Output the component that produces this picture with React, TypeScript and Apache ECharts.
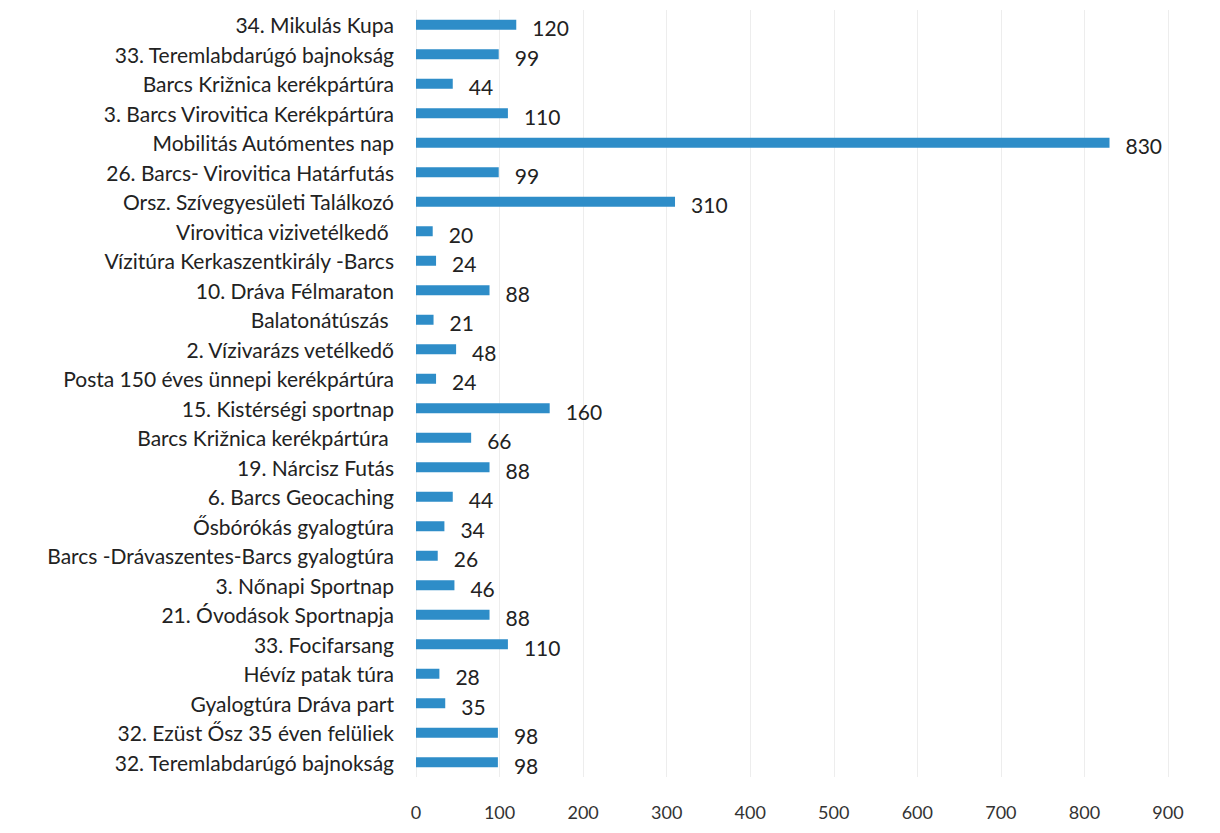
import React, { useEffect, useRef } from "react";
import * as echarts from "echarts";

const categories = [
  "34. Mikulás Kupa",
  "33. Teremlabdarúgó bajnokság",
  "Barcs Križnica kerékpártúra",
  "3. Barcs Virovitica Kerékpártúra",
  "Mobilitás Autómentes nap",
  "26. Barcs- Virovitica Határfutás",
  "Orsz. Szívegyesületi Találkozó",
  "Virovitica vizivetélkedő ",
  "Vízitúra Kerkaszentkirály -Barcs",
  "10. Dráva Félmaraton",
  "Balatonátúszás ",
  "2. Vízivarázs vetélkedő",
  "Posta 150 éves ünnepi kerékpártúra",
  "15. Kistérségi sportnap",
  "Barcs Križnica kerékpártúra ",
  "19. Nárcisz Futás",
  "6. Barcs Geocaching",
  "Ősbórókás gyalogtúra",
  "Barcs -Drávaszentes-Barcs gyalogtúra",
  "3. Nőnapi Sportnap",
  "21. Óvodások Sportnapja",
  "33. Focifarsang",
  "Hévíz patak túra",
  "Gyalogtúra Dráva part",
  "32. Ezüst Ősz 35 éven felüliek",
  "32. Teremlabdarúgó bajnokság",
];

const values = [120, 99, 44, 110, 830, 99, 310, 20, 24, 88, 21, 48, 24, 160, 66, 88, 44, 34, 26, 46, 88, 110, 28, 35, 98, 98];

const xTicks = { min: 0, max: 900, interval: 100 };

const FONT = "Lato";

export default function App() {
  const ref = useRef<HTMLDivElement>(null);
  useEffect(() => {
    if (!ref.current) return;
    const chart = echarts.init(ref.current, undefined, { renderer: "svg" });
    const cats = [...categories].reverse();
    const vals = [...values].reverse();
    chart.setOption({
      animation: false,
      backgroundColor: "#ffffff",
      grid: { left: 416, right: 52, top: 10, bottom: 56, containLabel: false },
      xAxis: {
        type: "value",
        min: xTicks.min,
        max: xTicks.max,
        interval: xTicks.interval,
        axisLine: { show: false },
        axisTick: { show: false },
        splitLine: { show: true, lineStyle: { color: "#ededed", width: 1 } },
        axisLabel: { fontFamily: FONT, fontSize: 18, color: "#333", margin: 26 },
      },
      yAxis: {
        type: "category",
        data: cats,
        axisLine: { show: false },
        axisTick: { show: false },
        axisLabel: { fontFamily: FONT, fontSize: 21, color: "#222", margin: 22, interval: 0 },
      },
      series: [
        {
          type: "bar",
          data: vals,
          barWidth: 10,
          itemStyle: { color: "#2E8DC8" },
          label: {
            show: true,
            position: "right",
            distance: 16,
            offset: [0, 3],
            fontFamily: FONT,
            fontSize: 21,
            color: "#222",
          },
        },
      ],
    });
    return () => chart.dispose();
  }, []);
  return (
    <div
      ref={ref}
      style={{ position: "fixed", left: 0, top: 0, width: 1220, height: 833, background: "#fff" }}
    />
  );
}
